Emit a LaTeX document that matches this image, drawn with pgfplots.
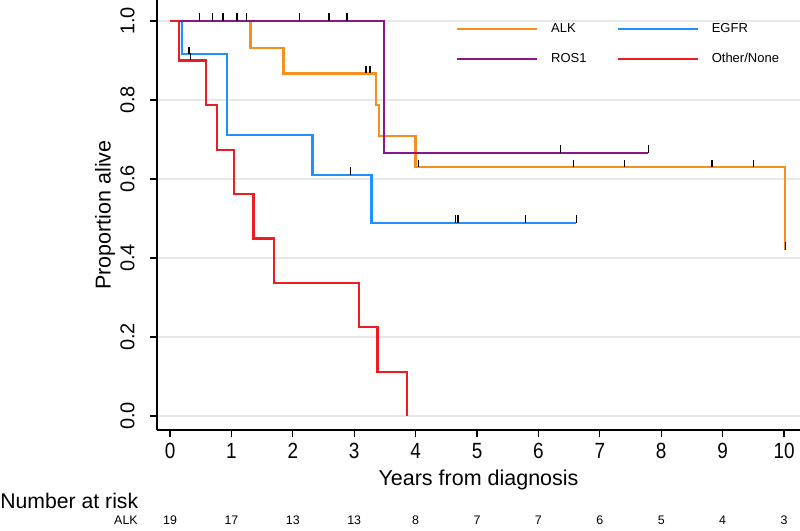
\documentclass[border=0pt]{standalone}
\usepackage{fontspec}
\setmainfont{Liberation Sans}
\newfontfamily\narrowfont{Liberation Sans}[FakeStretch=0.86]
\usepackage{pgfplots}
\pgfplotsset{compat=1.18}

\definecolor{alk}{RGB}{247,143,30}
\definecolor{egfr}{RGB}{30,144,255}
\definecolor{ros}{RGB}{140,20,140}
\definecolor{oth}{RGB}{236,28,36}
\definecolor{gridc}{RGB}{232,232,232}

\pgfdeclareplotmark{cens}{\pgfpathmoveto{\pgfqpoint{0pt}{0pt}}\pgfpathlineto{\pgfqpoint{0pt}{3.8pt}}\pgfusepathqstroke}

\begin{document}
\begin{tikzpicture}
\begin{axis}[
  scale only axis, width=321.5pt, height=215pt,
  xmin=-0.212, xmax=10.26, ymin=-0.0354, ymax=1.053,
  clip=false,
  axis x line*=bottom, axis y line*=left,
  axis line style={line width=0.75pt, -},
  xtick={0,1,2,3,4,5,6,7,8,9,10},
  ytick={0,0.2,0.4,0.6,0.8,1},
  yticklabels={0.0,0.2,0.4,0.6,0.8,1.0},
  tick style={black, line width=0.6pt},
  major tick length=3.5pt, tick align=outside,
  ymajorgrids, grid style={gridc, line width=0.6pt},
  /pgf/number format/assume math mode=true,
  xticklabel style={font=\narrowfont\fontsize{11}{13}\selectfont, inner sep=0pt, anchor=north},
  yticklabel style={font=\fontsize{10}{12}\selectfont, rotate=90, anchor=south, inner sep=0pt},
  xticklabel shift=3pt, yticklabel shift=7.5pt,
  xlabel={Years from diagnosis},
  xlabel style={font=\fontsize{10.75}{12}\selectfont, at={(rel axis cs:0.5,-0.128)}, anchor=base, inner sep=0pt},
  ylabel={Proportion alive},
  ylabel style={font=\fontsize{10.75}{12}\selectfont, at={(rel axis cs:-0.072,0.5)}, anchor=base, inner sep=0pt},
  legend columns=2,
  legend image code/.code={\draw[#1, line width=1.1pt] (0pt,0pt) -- (40pt,0pt);},
  legend style={draw=none, fill=none, at={(rel axis cs:0.465,0.9465)}, anchor=north west,
    font=\fontsize{6.5}{7.8}\selectfont, inner sep=0pt, outer sep=0pt,
    nodes={inner sep=0pt}, column sep=6.5pt, row sep=9pt,
    /tikz/every even column/.append style={column sep=15pt}},
  legend cell align=left,
]
% ALK
\addplot[alk, line width=1.15pt, const plot] coordinates {
  (0,1) (1.31,0.932) (1.85,0.867) (3.36,0.787) (3.40,0.708) (4.00,0.630) (10.02,0.42)};
\addlegendentry{ALK}
% EGFR
\addplot[egfr, line width=1.15pt, const plot] coordinates {
  (0,1) (0.19,0.916) (0.93,0.711) (2.32,0.610) (3.28,0.489) (6.62,0.489)};
\addlegendentry{EGFR}
% ROS1
\addplot[ros, line width=1.15pt, const plot] coordinates {
  (0,1) (3.49,0.666) (7.79,0.666)};
\addlegendentry{ROS1}
% Other/None
\addplot[oth, line width=1.15pt, const plot] coordinates {
  (0,1) (0.15,0.9) (0.59,0.787) (0.76,0.674) (1.04,0.562) (1.36,0.449) (1.69,0.337) (3.08,0.225) (3.38,0.112) (3.86,0)};
\addlegendentry{Other/None}
% censoring marks
\addplot[only marks, mark=cens, mark options={black, line width=0.7pt}, forget plot] coordinates {
  (0.48,1) (0.69,1) (0.86,1) (1.09,1) (1.25,1)
  (3.19,0.867) (3.26,0.867)
  (4.05,0.630) (6.57,0.630) (7.40,0.630) (8.83,0.630) (9.50,0.630) (10.02,0.42)};
\addplot[only marks, mark=cens, mark options={black, line width=0.7pt}, forget plot] coordinates {
  (2.11,1) (2.59,1) (2.88,1) (6.36,0.666) (7.79,0.666)};
\addplot[only marks, mark=cens, mark options={black, line width=0.7pt}, forget plot] coordinates {
  (0.31,0.916) (2.94,0.610) (4.65,0.489) (4.69,0.489) (5.79,0.489) (6.62,0.489)};
\addplot[only marks, mark=cens, mark options={black, line width=0.7pt}, forget plot] coordinates {
  (0.33,0.9)};
% number at risk
\addplot[draw=none, mark=none, forget plot, nodes near coords, point meta=explicit symbolic,
  nodes near coords align={anchor=base},
  nodes near coords style={font=\fontsize{6.2}{7}\selectfont, inner sep=0pt, anchor=base}] coordinates {
  (0,-0.2734)[19] (1,-0.2734)[17] (2,-0.2734)[13] (3,-0.2734)[13] (4,-0.2734)[8] (5,-0.2734)[7]
  (6,-0.2734)[7] (7,-0.2734)[6] (8,-0.2734)[5] (9,-0.2734)[4] (10,-0.2734)[3]};
\node[anchor=base east, font=\fontsize{6.2}{7}\selectfont, inner sep=0pt] at (axis cs:-0.52,-0.2734) {ALK};
\node[anchor=base west, font=\fontsize{10.6}{12}\selectfont, inner sep=0pt] at (axis cs:-2.769,-0.233) {Number at risk};
\coordinate (bbsw) at (axis cs:-2.769,-0.2886);
\coordinate (bbne) at (axis cs:10.26,1.053);
\end{axis}
\pgfresetboundingbox
\useasboundingbox (bbsw) rectangle (bbne);
\end{tikzpicture}
\end{document}
